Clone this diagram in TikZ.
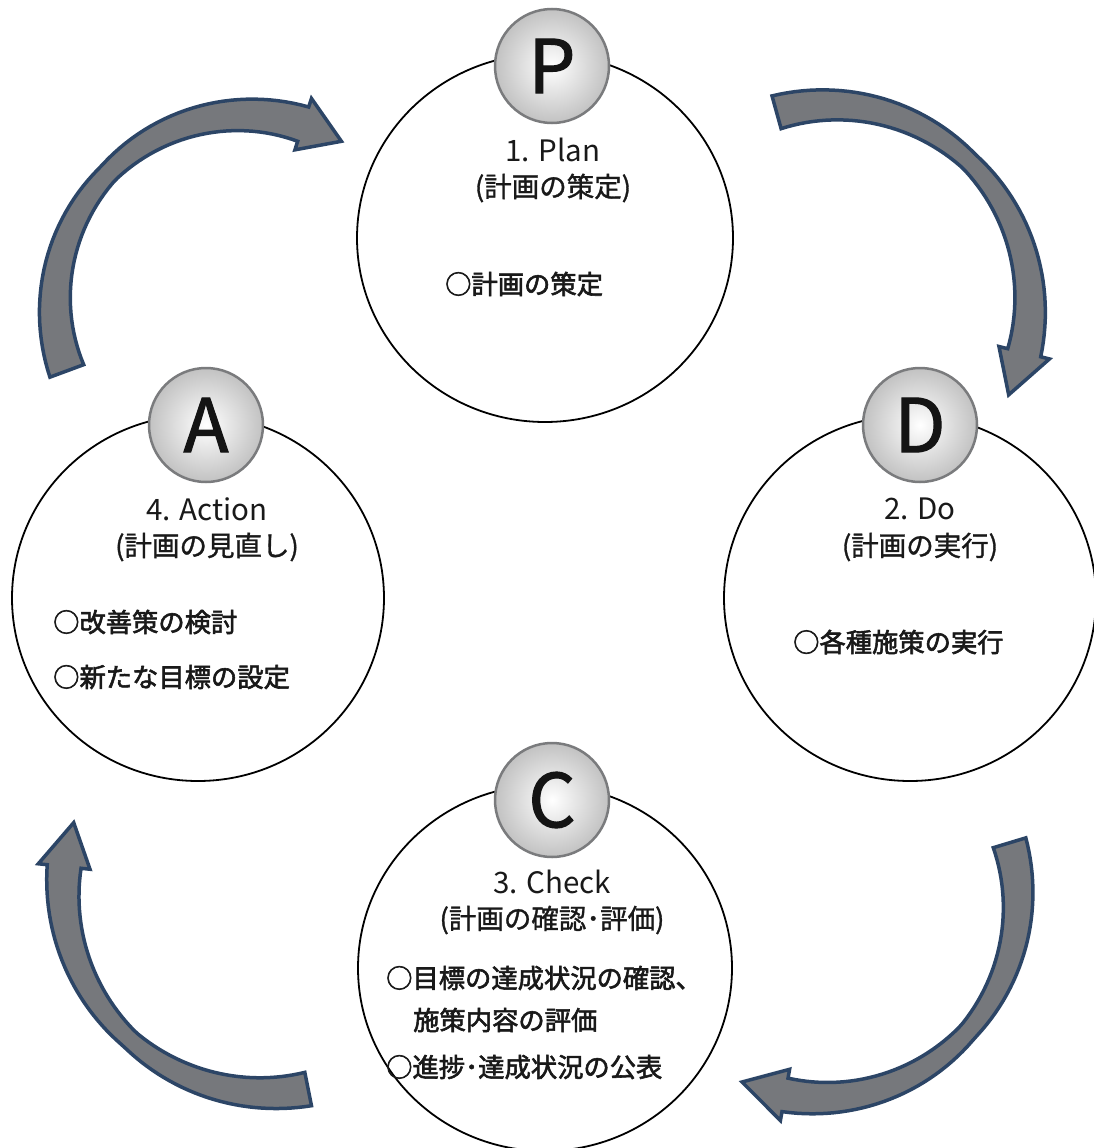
\documentclass[tikz,border=0pt]{standalone}
\usepackage{fontspec}
\setmainfont{Noto Sans CJK JP}
\newfontfamily\jpmed{Noto Sans CJK JP}[FakeBold=1.2]
\newfontfamily\jpbold{Noto Sans CJK JP}[FakeBold=2.2]
\newfontfamily\ballfont{Noto Sans CJK JP}[FakeBold=1.5]
\definecolor{arrowfill}{HTML}{76787C}
\definecolor{arrowline}{HTML}{2C4566}
\definecolor{ringgray}{HTML}{7A7B7D}
\definecolor{lettercol}{HTML}{141414}
% #1 cx #2 cy #3 mid radius #4 tail angle #5 tip angle #6 half width #7 head half width #8 head length
\newcommand{\cyc}[8]{%
  \pgfmathsetmacro{\ab}{#5-#8/#3*57.2958}%
  \pgfmathsetmacro{\aa}{#4}%
  \filldraw[cycarrow] plot[domain=\aa:\ab,samples=60]
     ({#1+(#3+#6*(0.55+0.45*abs(2*(\x-\aa)/(\ab-\aa)-1)))*cos(\x)},
      {#2+(#3+#6*(0.55+0.45*abs(2*(\x-\aa)/(\ab-\aa)-1)))*sin(\x)})
  -- ({#1+(#3+#7)*cos(\ab)},{#2+(#3+#7)*sin(\ab)})
  -- ({#1+#3*cos(#5)},{#2+#3*sin(#5)})
  -- ({#1+(#3-#7)*cos(\ab)},{#2+(#3-#7)*sin(\ab)})
  -- plot[domain=\ab:\aa,samples=60]
     ({#1+(#3-#6*(0.55+0.45*abs(2*(\x-\aa)/(\ab-\aa)-1)))*cos(\x)},
      {#2+(#3-#6*(0.55+0.45*abs(2*(\x-\aa)/(\ab-\aa)-1)))*sin(\x)}) -- cycle;}
\begin{document}
\begin{tikzpicture}[x=1pt,y=-1pt,
  cycarrow/.style={fill=arrowfill,draw=arrowline,line width=3.5pt,line join=miter},
  bigring/.style={draw=black,line width=1.8pt,fill=white},
  ball/.style={circle,minimum size=114pt,inner sep=0pt,draw=ringgray,line width=2.5pt,
    inner color=white,outer color=black!24,text=lettercol,font=\ballfont\fontsize{74}{74}\selectfont},
  ttl/.style={font=\fontsize{29.5}{32}\selectfont,text=black!90,inner sep=0pt},
  jttl/.style={font=\jpmed\fontsize{27.5}{30}\selectfont,text=black!90,inner sep=0pt},
  body/.style={font=\jpbold\fontsize{26.3}{30}\selectfont,text=black!90,inner sep=0pt,anchor=west}]
\useasboundingbox (0,0) rectangle (1093,1148);
% curved arrows
\cyc{245}{305}{190}{159.7}{300.5}{18}{27}{42}
\cyc{830}{305}{200}{254.5}{386.7}{17}{26}{45}
\cyc{820}{900}{198}{-16.8}{113.2}{17}{26}{45}
\cyc{268}{888}{205}{78.7}{198.6}{17}{26}{45}
% big ellipses
\draw[bigring] (545,238) ellipse [x radius=188,y radius=184];
\draw[bigring] (910,598) ellipse [x radius=186,y radius=183];
\draw[bigring] (198,598) ellipse [x radius=186,y radius=183];
\draw[bigring] (545,968) ellipse [x radius=187,y radius=183];
% letter balls
\node[ball] (P) at (552,66) {P};
\node[ball] (D) at (920,425) {D};
\node[ball] (A) at (206,425) {A};
\node[ball] (C) at (552,800) {C};
% Plan
\node[ttl] (p1) at (553,150) {1. Plan};
\node[jttl] (p2) at (553,188) {(計画の策定)};
\node[body] (p3) at (445,284) {○計画の策定};
% Do
\node[ttl] (d1) at (920,509) {2. Do};
\node[jttl] (d2) at (920,547) {(計画の実行)};
\node[body] (d3) at (793,642) {○各種施策の実行};
% Action
\node[ttl] (a1) at (207,509) {4. Action};
\node[jttl] (a2) at (207,547) {(計画の見直し)};
\node[body] (a3) at (53,622) {○改善策の検討};
\node[body] (a4) at (53,677) {○新たな目標の設定};
% Check
\node[ttl] (c1) at (552,882) {3. Check};
\node[jttl] (c2) at (552,920) {(計画の確認･評価)};
\node[body] (c3) at (386,978) {○目標の達成状況の確認、};
\node[body] (c4) at (413,1020) {施策内容の評価};
\node[body] (c5) at (386,1067) {○進捗･達成状況の公表};
\end{tikzpicture}
\end{document}
